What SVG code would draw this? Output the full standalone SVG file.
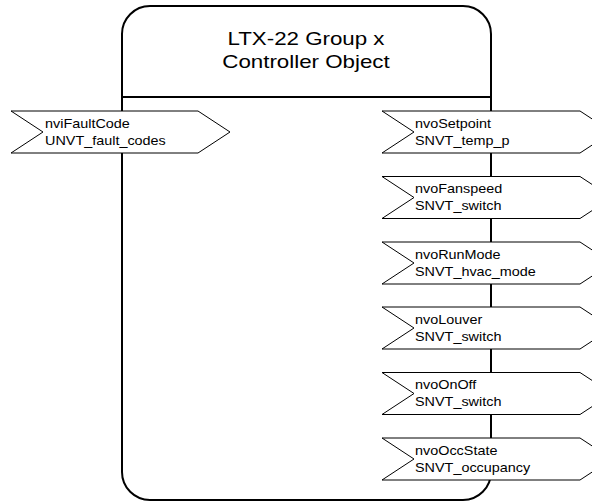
<svg xmlns="http://www.w3.org/2000/svg" width="592" height="502" viewBox="0 0 592 502">
<style>
.obj{fill:#fff;stroke:#000;stroke-width:2}
.port{fill:#fff;stroke:#000;stroke-width:1}
.title{font-family:"Liberation Sans",Arial,sans-serif;font-size:18.6px;fill:#000;text-anchor:middle}
.lbl{font-family:"Liberation Sans",Arial,sans-serif;font-size:12px;fill:#000}
</style>
<rect width="592" height="502" fill="#fff"/>
<g id="controller-object">
<rect class="obj" x="122" y="6" width="369" height="494" rx="28" ry="28"/>
<line x1="122" y1="97" x2="491" y2="97" stroke="#000" stroke-width="2"/>
<g transform="translate(306 0) scale(1.2 1)">
<text class="title" x="0" y="45">LTX-22 Group x</text>
<text class="title" x="0" y="68">Controller Object</text>
</g>
</g>
<g id="connectors"></g>
<g id="nviFaultCode">
<polygon class="port" points="11,111 198,111 230,132 198,153 11,153 43,132"/>
<g transform="translate(45 0) scale(1.2 1)">
<text class="lbl" x="0" y="128">nviFaultCode</text>
<text class="lbl" x="0" y="145">UNVT_fault_codes</text>
</g>
</g>
<g id="nvoSetpoint">
<polygon class="port" points="382,111 580,111 612,132 580,153 382,153 414,132"/>
<g transform="translate(415 0) scale(1.2 1)">
<text class="lbl" x="0" y="128">nvoSetpoint</text>
<text class="lbl" x="0" y="145">SNVT_temp_p</text>
</g>
</g>
<g id="nvoFanspeed">
<polygon class="port" points="382,176.5 580,176.5 612,197.5 580,218.5 382,218.5 414,197.5"/>
<g transform="translate(415 65.5) scale(1.2 1)">
<text class="lbl" x="0" y="128">nvoFanspeed</text>
<text class="lbl" x="0" y="145">SNVT_switch</text>
</g>
</g>
<g id="nvoRunMode">
<polygon class="port" points="382,242 580,242 612,263 580,284 382,284 414,263"/>
<g transform="translate(415 131) scale(1.2 1)">
<text class="lbl" x="0" y="128">nvoRunMode</text>
<text class="lbl" x="0" y="145">SNVT_hvac_mode</text>
</g>
</g>
<g id="nvoLouver">
<polygon class="port" points="382,307 580,307 612,328 580,349 382,349 414,328"/>
<g transform="translate(415 196) scale(1.2 1)">
<text class="lbl" x="0" y="128">nvoLouver</text>
<text class="lbl" x="0" y="145">SNVT_switch</text>
</g>
</g>
<g id="nvoOnOff">
<polygon class="port" points="382,372.5 580,372.5 612,393.5 580,414.5 382,414.5 414,393.5"/>
<g transform="translate(415 261.5) scale(1.2 1)">
<text class="lbl" x="0" y="128">nvoOnOff</text>
<text class="lbl" x="0" y="145">SNVT_switch</text>
</g>
</g>
<g id="nvoOccState">
<polygon class="port" points="382,438 580,438 612,459 580,480 382,480 414,459"/>
<g transform="translate(415 327) scale(1.2 1)">
<text class="lbl" x="0" y="128">nvoOccState</text>
<text class="lbl" x="0" y="145">SNVT_occupancy</text>
</g>
</g>
</svg>
